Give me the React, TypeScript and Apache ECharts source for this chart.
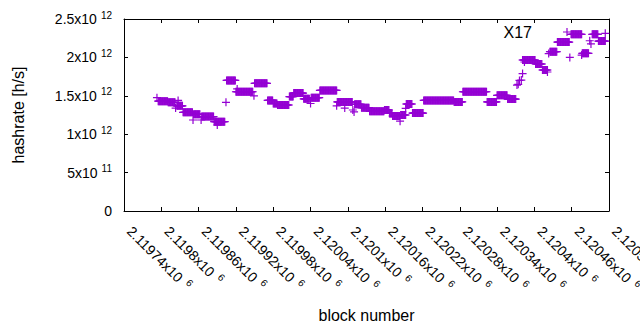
import React, { useEffect, useRef } from "react";
import * as echarts from "echarts";

// Step runs of the hashrate (one point per block inside each run)
const runStart = [2119795, 2119811, 2119825, 2119835, 2119852, 2119865, 2119885, 2119905, 2119920, 2119950, 2119971, 2119980, 2119987, 2120006, 2120013, 2120029, 2120041, 2120055, 2120083, 2120096, 2120111, 2120122, 2120135, 2120159, 2120167, 2120172, 2120185, 2120194, 2120204, 2120222, 2120271, 2120285, 2120324, 2120340, 2120357, 2120381, 2120402, 2120413, 2120425, 2120437, 2120459, 2120477, 2120493, 2120503];
const runEnd = [2119810, 2119822, 2119834, 2119850, 2119862, 2119884, 2119902, 2119919, 2119947, 2119970, 2119979, 2119986, 2120005, 2120012, 2120028, 2120038, 2120054, 2120082, 2120095, 2120107, 2120121, 2120134, 2120158, 2120166, 2120171, 2120183, 2120193, 2120203, 2120221, 2120270, 2120284, 2120323, 2120339, 2120356, 2120370, 2120401, 2120412, 2120421, 2120436, 2120456, 2120476, 2120487, 2120502, 2120514];
const runValue = [1.43e12, 1.415e12, 1.37e12, 1.285e12, 1.26e12, 1.23e12, 1.163e12, 1.7e12, 1.553e12, 1.663e12, 1.44e12, 1.4e12, 1.38e12, 1.49e12, 1.535e12, 1.46e12, 1.475e12, 1.57e12, 1.42e12, 1.42e12, 1.39e12, 1.345e12, 1.3e12, 1.315e12, 1.27e12, 1.237e12, 1.25e12, 1.393e12, 1.275e12, 1.44e12, 1.42e12, 1.553e12, 1.42e12, 1.506e12, 1.458e12, 1.966e12, 1.914e12, 1.836e12, 2.075e12, 2.2e12, 2.3e12, 2.053e12, 2.3e12, 2.213e12];

// Isolated points
const singleBlock = [2119793, 2119823, 2119827, 2119851, 2119864, 2119890, 2119904, 2119922, 2119949, 2120040, 2120082, 2120095, 2120108, 2120110, 2120184, 2120193, 2120372, 2120374, 2120376, 2120379, 2120381, 2120384, 2120421, 2120423, 2120457, 2120476, 2120489, 2120491, 2120514];
const singleValue = [1.475e12, 1.34e12, 1.44e12, 1.185e12, 1.185e12, 1.12e12, 1.415e12, 1.59e12, 1.5e12, 1.4e12, 1.37e12, 1.34e12, 1.315e12, 1.29e12, 1.17e12, 1.335e12, 1.64e12, 1.65e12, 1.7e12, 1.705e12, 1.79e12, 1.94e12, 1.81e12, 2.05e12, 2.0e12, 2.03e12, 2.217e12, 2.175e12, 2.314e12];

const xMin = 2119740;
const xMax = 2120520;
const xStep = 60;
const yMin = 0;
const yMax = 2.5e12;
const yStep = 5e11;

const seriesName = "X17";
const xTitle = "block number";
const yTitle = "hashrate [h/s]";

const FONT = "'Liberation Sans', Arial, sans-serif";
const PURPLE = "#9400d3";
const PLUS = "path://M0,3.4H8V4.6H0Z M3.4,0H4.6V8H3.4Z";

function sci(v: number): string {
  if (v === 0) return "{m|0}";
  const e = Math.floor(Math.log10(Math.abs(v)) + 1e-9);
  const m = parseFloat((v / Math.pow(10, e)).toFixed(6));
  return `{m|${m}x10}{s|${e}}`;
}

const richY = {
  m: { fontSize: 14, lineHeight: 18, color: "#000", fontFamily: FONT },
  s: { fontSize: 10, lineHeight: 10, verticalAlign: "top", color: "#000", fontFamily: FONT, padding: [0, 0, 0, 4] },
};
const richX = {
  m: { fontSize: 14, lineHeight: 18, color: "#000", fontFamily: FONT, padding: [0, 0, 0, 8] },
  s: { fontSize: 10, lineHeight: 10, verticalAlign: "top", color: "#000", fontFamily: FONT, padding: [0, 0, 0, 6] },
};

function buildPoints(): [number, number][] {
  const pts: [number, number][] = [];
  runStart.forEach((s, i) => {
    for (let b = s; b <= runEnd[i]; b++) pts.push([b, runValue[i]]);
  });
  singleBlock.forEach((b, i) => pts.push([b, singleValue[i]]));
  return pts;
}

export default function App() {
  const ref = useRef<HTMLDivElement>(null);
  useEffect(() => {
    if (!ref.current) return;
    const chart = echarts.init(ref.current, undefined, { renderer: "svg" });
    const axisLine = { show: true, onZero: false, lineStyle: { color: "#000", width: 1 } };
    const tick = { show: true, inside: true, length: 4, lineStyle: { color: "#000", width: 1 } };
    chart.setOption({
      animation: false,
      backgroundColor: "#fff",
      textStyle: { fontFamily: FONT },
      grid: { left: 124, top: 19, width: 485, height: 192, containLabel: false, outerBoundsMode: "none" },
      legend: {
        data: [seriesName],
        right: 64,
        top: 19,
        align: "right",
        itemWidth: 60,
        itemHeight: 8,
        textStyle: { fontSize: 16, color: "#000", fontFamily: FONT },
      },
      xAxis: [
        {
          type: "value",
          position: "bottom",
          min: xMin,
          max: xMax,
          interval: xStep,
          axisLine,
          axisTick: tick,
          splitLine: { show: false },
          axisLabel: {
            rotate: -45,
            margin: 12,
            showMinLabel: true,
            showMaxLabel: true,
            formatter: (v: number) => sci(v),
            rich: richX,
          },
          name: xTitle,
          nameLocation: "middle",
          nameGap: 96,
          nameTextStyle: { fontSize: 16, color: "#000", fontFamily: FONT },
        },
        {
          type: "value",
          position: "top",
          min: xMin,
          max: xMax,
          interval: xStep,
          axisLine,
          axisTick: tick,
          splitLine: { show: false },
          axisLabel: { show: false },
        },
      ],
      yAxis: [
        {
          type: "value",
          position: "left",
          min: yMin,
          max: yMax,
          interval: yStep,
          axisLine,
          axisTick: tick,
          splitLine: { show: false },
          axisLabel: { margin: 12, formatter: (v: number) => sci(v), rich: richY },
          name: yTitle,
          nameLocation: "middle",
          nameRotate: 90,
          nameGap: 98,
          nameTextStyle: { fontSize: 16, color: "#000", fontFamily: FONT },
        },
        {
          type: "value",
          position: "right",
          min: yMin,
          max: yMax,
          interval: yStep,
          axisLine,
          axisTick: tick,
          splitLine: { show: false },
          axisLabel: { show: false },
        },
      ],
      series: [
        {
          name: seriesName,
          type: "scatter",
          data: buildPoints(),
          symbol: PLUS,
          symbolSize: 8,
          symbolKeepAspect: true,
          itemStyle: { color: PURPLE, opacity: 1 },
          emphasis: { disabled: true },
        },
      ],
    });
    return () => chart.dispose();
  }, []);
  return (
    <div
      ref={ref}
      style={{ position: "absolute", left: 0, top: 0, width: 640, height: 330, overflow: "hidden" }}
    />
  );
}
